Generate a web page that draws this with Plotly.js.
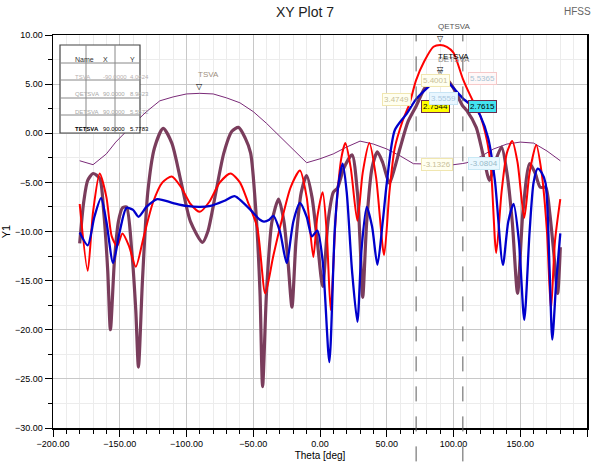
<!DOCTYPE html>
<html>
<head>
<meta charset="utf-8">
<script src="https://cdn.plot.ly/plotly-3.0.1.min.js"></script>
<style>html,body{margin:0;padding:0;background:#fff;}#chart{width:595px;height:464px;}</style>
</head>
<body>
<div id="chart"></div>
<script>
// ---- Data ----
const thetaTSVA = [-180,-170,-160,-153,-140,-130,-120,-110,-100,-90,-80,-70,-60,-50,-40,-30,-20,-10,0,10,20,30,40,50,60,70,80,90,100,107,110,120,130,140,150,160,170,180];
const valTSVA   = [-2.8,-3.2,-2.1,-0.9,0.9,2.2,3.3,3.7,4.0,4.0624,4.0,3.6,3.1,2.2,1.0,-0.3,-1.7,-3.0,-2.6,-2.1,-1.4,-0.8,-1.1,-1.6,-2.3,-3.1,-3.13,-3.2,-3.2,-3.0804,-3.0,-2.4,-1.6,-1.1,-0.9,-1.0,-1.8,-2.8];

const thetaQ = [-180,-174,-170,-165,-160,-156,-152,-148,-143,-138,-132,-125,-118,-111,-104,-97,-90,-83,-75,-67,-60,-54,-47,-41,-35,-28,-22,-15,-10,-5,-2,2,5,8,12,16,19,23,28,32,37,42,48,52,56,62,67,72,78,85,90,95,100,107,112,117,120,125,128,132,136,140,144,148,153,157,162,166,170,173,176,180];
const valQ   = [-7.2,-14.0,-8.0,-4.1,-6.5,-10.5,-11.5,-10.2,-11.5,-13.6,-10.5,-7.0,-5.0,-4.4,-5.5,-7.2,-8.0,-7.0,-5.0,-4.1,-5.0,-7.0,-9.6,-16.3,-12.5,-8.5,-5.5,-3.8,-6.5,-12.6,-8.5,-6.0,-10.0,-18.0,-8.0,-2.5,-1.0,-3.5,-8.9,-4.0,-1.0,-4.5,-12.4,-6.0,-1.5,1.3,3.0,5.4001,7.3,8.8,8.9823,8.8,8.2,5.5365,4.0,2.6,1.8,-0.7,-3.5,-12.2,-6.0,-2.0,-0.8,-3.0,-8.6,-4.0,-1.2,-4.0,-10.0,-18.0,-11.0,-6.7];

const thetaD = [-180,-174,-169,-164,-160,-155,-150,-145,-140,-136,-130,-122,-110,-100,-90,-82,-72,-64,-58,-52,-45,-42,-38,-35,-30,-25,-20,-15,-10,-6,-2,2,7,11,14,17,20,24,28,31,35,39,43,47,50,56,65,72,81,88,90,95,100,107,112,117,120,126,131,137,141,145,149,153,157,160,163,166,169,172,174,177,180];
const valD   = [-10.1,-11.4,-8.5,-6.6,-9.0,-13.2,-10.0,-7.6,-7.8,-8.5,-7.5,-6.7,-7.1,-7.4,-7.5,-7.4,-6.9,-6.4,-7.0,-7.8,-8.8,-9.0,-8.8,-8.4,-10.0,-13.2,-9.0,-7.1,-8.5,-10.5,-9.9,-13.0,-23.3,-10.0,-5.0,-3.1,-6.0,-14.0,-19.2,-12.0,-7.5,-9.5,-13.4,-9.0,-5.1,0.3,2.0,3.4749,4.7,5.5,5.5572,5.3,4.6,3.5559,3.0,2.5,1.8,-0.5,-4.8,-13.4,-9.0,-7.2,-11.0,-19.0,-10.0,-5.0,-3.6,-4.0,-5.1,-14.0,-21.0,-15.0,-10.2];

const thetaT = [-180,-177,-174,-170,-165,-162,-159,-157,-154,-151,-148,-145,-141,-138,-136,-133,-129,-124,-117.5,-111,-104,-97,-88,-84,-78,-72,-66,-61,-56,-52,-48,-45,-43,-40,-36,-31,-27,-24,-21,-18,-14,-10,-6,-2,2,6,10,13,18,24,28,30,32,35,39,43,47,52,56,60,66,72,78,85,90,95,100,107,110,117,122,127,131,136,140,144,148,152,157,161,165,169,172,175,178,180];
const valT   = [-11.2,-7.0,-4.8,-4.1,-4.6,-8.0,-14.0,-20.0,-13.0,-9.0,-7.6,-7.5,-12.0,-18.0,-23.8,-15.0,-6.0,-1.5,0.5,-1.0,-5.0,-9.0,-11.1,-10.0,-6.0,-2.0,0.2,0.6,-0.5,-2.0,-8.0,-16.0,-25.8,-16.0,-9.0,-6.7,-9.0,-13.0,-17.7,-11.0,-6.0,-4.3,-6.5,-11.0,-15.6,-9.0,-6.0,-5.6,-3.5,-2.2,-6.0,-11.0,-16.7,-9.0,-3.5,-1.9,-3.0,-5.1,-3.5,-1.5,1.2,2.7544,4.5,5.6,5.7783,5.5,4.6,2.7615,2.3,0.6,-2.1,-4.8,-3.0,-1.4,-4.0,-9.0,-16.3,-8.0,-3.1,-4.0,-5.5,-5.5,-8.0,-12.0,-16.3,-11.6];

// Marker table
const tblNames = ["TSVA","QETSVA","DETSVA","TETSVA"];
const tblX = [-90.0, 90.0, 90.0, 90.0];
const tblY = [4.0624, 8.9823, 5.5572, 5.7783];

// Dashed marker lines and callout values
const lineTheta = [72, 107];
const calloutsLeft  = [5.4001, 3.4749, 2.7544, -3.1326];
const calloutsRight = [5.5365, 3.5559, 2.7615, -3.0804];

// ---- Styling ----
const FONT = "'Liberation Sans',Arial,sans-serif";
const cRed = "#ff0000", cBlue = "#0000cc", cMauve = "#7a3d5c", cPurple = "#7a2a78";

const traces = [
  {x: thetaTSVA, y: valTSVA, mode: "lines", name: "TSVA", line: {color: cPurple, width: 1}},
  {x: thetaT, y: valT, mode: "lines", name: "TETSVA", line: {color: cMauve, width: 3.2, shape: "spline", smoothing: 0.7}},
  {x: thetaQ, y: valQ, mode: "lines", name: "QETSVA", line: {color: cRed, width: 2, shape: "spline", smoothing: 0.7}},
  {x: thetaD, y: valD, mode: "lines", name: "DETSVA", line: {color: cBlue, width: 2.3, shape: "spline", smoothing: 0.7}}
];

const shapes = [];
const annotations = [];

// dashed marker lines
lineTheta.forEach(t => shapes.push({type: "line", xref: "x", yref: "paper", x0: t, x1: t, y0: -0.085, y1: 1.0,
  line: {color: "#5a5a5a", width: 1, dash: "longdash"}}));

// legend/marker table
const px = X => (X - 53) / 534, py = Y => (428 - Y) / 393;
const tL = 60, tR = 140, c1 = 86, c2 = 115;
const rows = [45, 63, 80, 98, 115, 133];
shapes.push({type: "rect", xref: "paper", yref: "paper", x0: px(tL), x1: px(tR), y0: py(rows[5]), y1: py(rows[0]),
  fillcolor: "#fff", line: {color: "#444", width: 1.2}, layer: "above"});
for (let i = 1; i < 5; i++) shapes.push({type: "line", xref: "paper", yref: "paper", x0: px(tL), x1: px(tR), y0: py(rows[i]), y1: py(rows[i]), line: {color: "#888", width: 1}, layer: "above"});
[c1, c2].forEach(c => shapes.push({type: "line", xref: "paper", yref: "paper", x0: px(c), x1: px(c), y0: py(rows[5]), y1: py(rows[0]), line: {color: "#888", width: 1}, layer: "above"}));
const hdr = ["Name", "X", "Y"];
const colC = [(tL + c1) / 2, (c1 + c2) / 2, (c2 + tR) / 2];
hdr.forEach((h, j) => annotations.push({xref: "paper", yref: "paper", x: px(colC[j]), y: py((rows[0] + rows[1]) / 2), text: h, showarrow: false, font: {family: FONT, size: 7, color: "#333"}}));
const rowCol = ["#b8b0b0", "#a8a8a8", "#a8a8a8", "#000"];
tblNames.forEach((n, i) => {
  const yc = py((rows[i + 1] + rows[i + 2]) / 2);
  const b = i === 3;
  const f = {family: FONT, size: 6, color: rowCol[i]};
  const wrap = s => b ? "<b>" + s + "</b>" : s;
  annotations.push({xref: "paper", yref: "paper", x: px(colC[0]), y: yc, text: wrap(n), showarrow: false, font: f});
  annotations.push({xref: "paper", yref: "paper", x: px(colC[1]), y: yc, text: tblX[i].toFixed(4), showarrow: false, font: f});
  annotations.push({xref: "paper", yref: "paper", x: px(colC[2]), y: yc, text: tblY[i].toFixed(4), showarrow: false, font: f});
});

// marker tags on curves
const tagCol = ["#a09080", "#555", "#888", "#000"];
const tagShift = [12, 12, 13, 13];
tblNames.forEach((n, i) => {
  annotations.push({x: tblX[i], y: tblY[i], xref: "x", yref: "y", text: "▽", showarrow: false, yanchor: "bottom",
    yshift: 0, font: {family: "DejaVu Sans", size: 8, color: "#000"}});
  annotations.push({x: tblX[i], y: tblY[i], xref: "x", yref: "y", text: n, showarrow: false, yanchor: "bottom", xanchor: "left",
    xshift: -4, yshift: tagShift[i], font: {family: FONT, size: 8, color: tagCol[i]}});
});

// callouts
const leftStyle = [
  {side: "right", bg: "#fffff0", bd: "#f0e6b0", fc: "#c8c098"},
  {side: "left",  bg: "#fffff0", bd: "#f0e6b0", fc: "#c8c098"},
  {side: "right", bg: "#ffff00", bd: "#6b2a4a", fc: "#000"},
  {side: "right", bg: "#fffff0", bd: "#f0e6b0", fc: "#c8c098"}];
const rightStyle = [
  {side: "right", bg: "#fff8f8", bd: "#f5c8c8", fc: "#a8c4d4"},
  {side: "left",  bg: "#e8f6ff", bd: "#c8e4f4", fc: "#a8c8e0"},
  {side: "right", bg: "#44e4f0", bd: "#6b2a4a", fc: "#000"},
  {side: "right", bg: "#eaf8ff", bd: "#c8e8f4", fc: "#98b8c8"}];
function addCallouts(t, vals, st) {
  vals.forEach((v, i) => {
    const s = st[i];
    annotations.push({x: t, y: v, xref: "x", yref: "y", text: v.toFixed(4), showarrow: false,
      xanchor: s.side === "right" ? "left" : "right", xshift: s.side === "right" ? 5 : -5,
      bgcolor: s.bg, bordercolor: s.bd, borderwidth: 1, borderpad: 1,
      font: {family: FONT, size: 8, color: s.fc}});
  });
}
addCallouts(lineTheta[0], calloutsLeft, leftStyle);
addCallouts(lineTheta[1], calloutsRight, rightStyle);

// HFSS tag
annotations.push({xref: "paper", yref: "paper", x: 1.0, y: 1.06, xanchor: "right", yanchor: "middle", text: "HFSS", showarrow: false,
  xshift: 6, font: {family: FONT, size: 10, color: "#666"}});

const axisCommon = {
  showline: true, linecolor: "#000", linewidth: 1.5, mirror: true,
  ticks: "outside", ticklen: 7, tickcolor: "#000", tickwidth: 1,
  showgrid: true, gridcolor: "#c8c8c8", gridwidth: 1, zeroline: false,
  tickfont: {family: FONT, size: 9, color: "#000"}, tickformat: ".2f"
};

const layout = {
  width: 595, height: 464,
  margin: {l: 53, r: 8, t: 35, b: 36},
  paper_bgcolor: "#fff", plot_bgcolor: "#fff",
  showlegend: false,
  font: {family: FONT},
  title: {text: "XY Plot 7", x: 305 / 595, xanchor: "center", y: 1 - 12 / 464, yanchor: "middle",
    font: {family: FONT, size: 14, color: "#222"}},
  xaxis: Object.assign({}, axisCommon, {
    range: [-200, 200], dtick: 50, tick0: 0,
    minor: {dtick: 10, showgrid: true, gridcolor: "#ececec", ticks: "outside", ticklen: 4, tickcolor: "#000"},
    title: {text: "Theta [deg]", standoff: 3, font: {family: FONT, size: 10, color: "#000"}}
  }),
  yaxis: Object.assign({}, axisCommon, {
    range: [-30, 10], dtick: 5, tick0: 0,
    minor: {dtick: 2.5, showgrid: true, gridcolor: "#ececec", ticks: "outside", ticklen: 4, tickcolor: "#000"},
    title: {text: "Y1", standoff: 6, font: {family: FONT, size: 11, color: "#000"}}
  }),
  shapes: shapes,
  annotations: annotations
};

Plotly.newPlot("chart", traces, layout, {displayModeBar: false, staticPlot: true});
</script>
</body>
</html>
